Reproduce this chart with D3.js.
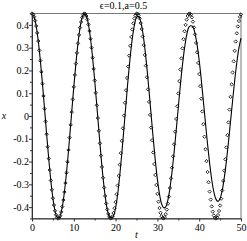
<!DOCTYPE html>
<html><head><meta charset="utf-8">
<script src="https://cdn.jsdelivr.net/npm/d3@7"></script>
<style>html,body{margin:0;padding:0;background:#fff;}svg{display:block;} text{font-family:"Liberation Serif","DejaVu Serif",serif !important;}</style>
</head><body>
<script>
const title = "ϵ=0.1,a=0.5";
const xLabel = "t", yLabel = "x";
const xTicks = [0,10,20,30,40,50];
const xTickLabels = ["0","10","20","30","40","50"];
const xMinor = [5,15,25,35,45];
const yTicks = [0.4,0.3,0.2,0.1,0,-0.1,-0.2,-0.3,-0.4];
const yTickLabels = ["0.4","0.3","0.2","0.1","0","-0.1","-0.2","-0.3","-0.4"];
const yMinor = [0.45,0.35,0.25,0.15,0.05,-0.05,-0.15,-0.25,-0.35,-0.45];
// point series: t = 0, 0.25, ..., 50
const markT0 = 0, markDt = 0.25;
const markValues = [0.450,0.446,0.436,0.419,0.395,0.365,0.329,0.288,0.243,0.194,0.142,0.088,0.032,-0.024,-0.080,-0.135,-0.187,-0.237,-0.283,-0.324,-0.361,-0.391,-0.416,-0.434,-0.445,-0.450,-0.447,-0.438,-0.421,-0.398,-0.369,-0.334,-0.294,-0.249,-0.201,-0.149,-0.095,-0.039,0.017,0.073,0.128,0.180,0.230,0.277,0.319,0.356,0.388,0.413,0.432,0.444,0.450,0.448,0.439,0.424,0.402,0.373,0.339,0.300,0.256,0.207,0.156,0.102,0.047,-0.009,-0.065,-0.120,-0.174,-0.224,-0.271,-0.314,-0.351,-0.384,-0.410,-0.430,-0.443,-0.449,-0.449,-0.441,-0.426,-0.405,-0.378,-0.344,-0.305,-0.262,-0.214,-0.163,-0.109,-0.054,0.002,0.058,0.113,0.167,0.217,0.265,0.308,0.347,0.380,0.407,0.428,0.442,0.449,0.449,0.442,0.429,0.408,0.382,0.349,0.311,0.268,0.221,0.170,0.117,0.062,0.005,-0.051,-0.106,-0.160,-0.211,-0.259,-0.303,-0.342,-0.376,-0.404,-0.425,-0.440,-0.448,-0.450,-0.444,-0.431,-0.411,-0.385,-0.354,-0.316,-0.274,-0.227,-0.177,-0.124,-0.069,-0.013,0.043,0.099,0.153,0.204,0.253,0.297,0.337,0.372,0.400,0.423,0.439,0.448,0.450,0.445,0.433,0.414,0.389,0.358,0.321,0.280,0.233,0.184,0.131,0.076,0.020,-0.036,-0.091,-0.146,-0.198,-0.246,-0.291,-0.332,-0.367,-0.397,-0.420,-0.437,-0.447,-0.450,-0.446,-0.435,-0.417,-0.393,-0.363,-0.327,-0.285,-0.240,-0.190,-0.138,-0.084,-0.028,0.028,0.084,0.139,0.191,0.240,0.286,0.327,0.363,0.393,0.417,0.435,0.446];
// solid curve: t = 0, 0.5, ..., 50
const lineT0 = 0, lineDt = 0.5;
const lineValues = [0.450,0.436,0.395,0.329,0.243,0.142,0.032,-0.080,-0.187,-0.283,-0.361,-0.416,-0.445,-0.447,-0.421,-0.369,-0.294,-0.201,-0.095,0.017,0.128,0.230,0.319,0.388,0.432,0.450,0.439,0.402,0.339,0.256,0.156,0.047,-0.065,-0.174,-0.271,-0.351,-0.410,-0.442,-0.448,-0.439,-0.403,-0.342,-0.260,-0.161,-0.053,0.057,0.165,0.261,0.341,0.399,0.433,0.437,0.415,0.367,0.297,0.210,0.110,0.005,-0.099,-0.195,-0.278,-0.343,-0.385,-0.403,-0.399,-0.369,-0.317,-0.245,-0.158,-0.062,0.038,0.136,0.225,0.299,0.355,0.389,0.396,0.391,0.362,0.312,0.243,0.159,0.065,-0.031,-0.124,-0.208,-0.280,-0.333,-0.365,-0.375,-0.362,-0.327,-0.271,-0.199,-0.114,-0.023,0.069,0.157,0.235,0.298,0.342];

const W = 247, H = 241;
const svg = d3.select("body").append("svg").attr("width", W).attr("height", H);
const x = d3.scaleLinear().domain([0, 50]).range([32, 241]);
const y = d3.scaleLinear().domain([-0.45, 0.45]).range([218.5, 13.5]);

svg.append("rect").attr("x", x(0)).attr("y", y(0.45)).attr("width", x(50) - x(0)).attr("height", y(-0.45) - y(0.45))
  .attr("fill", "none").attr("stroke", "#777").attr("stroke-width", 1);

const lineData = lineValues.map((v, i) => ({t: lineT0 + i * lineDt, v}));
const markData = markValues.map((v, i) => ({t: markT0 + i * markDt, v}));

svg.append("path").datum(lineData)
  .attr("d", d3.line().x(d => x(d.t)).y(d => y(d.v)).curve(d3.curveCatmullRom))
  .attr("fill", "none").attr("stroke", "#000").attr("stroke-width", 1.1);

const diamond = {draw(ctx, size) { const r = Math.sqrt(size / 2); ctx.moveTo(0, -r); ctx.lineTo(r, 0); ctx.lineTo(0, r); ctx.lineTo(-r, 0); ctx.closePath(); }};
svg.append("g").selectAll("path").data(markData).join("path")
  .attr("transform", d => `translate(${x(d.t)},${y(d.v)})`)
  .attr("d", d3.symbol(diamond, 5.5))
  .attr("fill", "none").attr("stroke", "#111").attr("stroke-width", 0.9);

const xAxis = svg.append("g").attr("transform", `translate(0,${y(-0.45)})`)
  .call(d3.axisBottom(x).tickValues(xTicks).tickFormat((d, i) => xTickLabels[i]).tickSize(3).tickSizeOuter(0));
svg.append("g").attr("transform", `translate(0,${y(-0.45)})`)
  .call(d3.axisBottom(x).tickValues(xMinor).tickFormat("").tickSize(2).tickSizeOuter(0))
  .select(".domain").remove();
const yAxis = svg.append("g").attr("transform", `translate(${x(0)},0)`)
  .call(d3.axisLeft(y).tickValues(yTicks).tickFormat((d, i) => yTickLabels[i]).tickSize(3).tickSizeOuter(0));
svg.append("g").attr("transform", `translate(${x(0)},0)`)
  .call(d3.axisLeft(y).tickValues(yMinor).tickFormat("").tickSize(2).tickSizeOuter(0))
  .select(".domain").remove();
svg.selectAll("g").attr("font-family", null);
svg.selectAll(".tick text").attr("font-size", 10).attr("fill", "#000");
xAxis.selectAll(".tick text").attr("dy", "0.9em").attr("y", 3);
yAxis.selectAll(".tick text").attr("x", -3);
svg.selectAll(".domain").attr("stroke", "#333");
svg.selectAll(".tick line").attr("stroke", "#333");

svg.append("text").attr("x", 123.5).attr("y", 9).attr("text-anchor", "middle")
  .attr("font-size", 10).text(title);
svg.append("text").attr("x", x(25)).attr("y", 238).attr("text-anchor", "middle")
  .attr("font-size", 10).attr("font-style", "italic").text(xLabel);
svg.append("text").attr("x", 4).attr("y", y(0) + 3).attr("text-anchor", "middle")
  .attr("font-size", 10).attr("font-style", "italic").text(yLabel);
</script>
</body></html>
